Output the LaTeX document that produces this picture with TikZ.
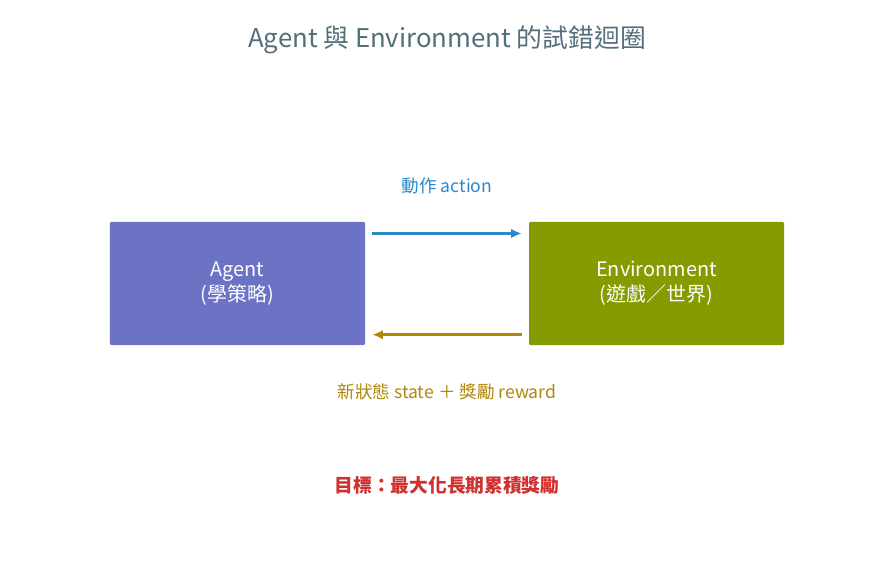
\documentclass[tikz,border=0pt]{standalone}
\usepackage{fontspec}
\setmainfont{Noto Sans CJK TC}
\usetikzlibrary{arrows.meta}
\definecolor{titlegray}{HTML}{546E7A}
\definecolor{agentblue}{HTML}{6C72C4}
\definecolor{envgreen}{HTML}{859B00}
\definecolor{actblue}{HTML}{2B88C9}
\definecolor{rewbrown}{HTML}{B0880A}
\definecolor{goalred}{HTML}{D0302F}
\tikzset{box/.style={draw=none,fill=#1,text=white,minimum width=7.65cm,minimum height=3.69cm,
    align=center,font=\fontsize{17}{21}\selectfont,rounded corners=1pt}}
\begin{document}
\begin{tikzpicture}[x=0.03cm,y=-0.03cm]
		\useasboundingbox[fill=white] (0,0) rectangle (894,564);
		% title
		\node[text=titlegray,font=\fontsize{22}{26}\selectfont] (title) at (447,40) {Agent 與 Environment 的試錯迴圈};
		% boxes
		\node[box=agentblue] (agent) at (237.5,283.5) {Agent\\(學策略)};
		\node[box=envgreen] (env) at (656.5,283.5) {Environment\\(遊戲／世界)};
		% action
		\draw[line width=2.2pt,color=actblue,-{Latex[length=9pt,width=8pt]}] ([xshift=6pt,yshift=-10pt]agent.north east) -- ([xshift=-6pt,yshift=-10pt]env.north west);
		\node[text=actblue,font=\fontsize{15}{18}\selectfont] (act) at (447,186) {動作 action};
		% state + reward
		\draw[line width=2.2pt,color=rewbrown,-{Latex[length=9pt,width=8pt]}] ([xshift=-6pt,yshift=9pt]env.south west) -- ([xshift=6pt,yshift=9pt]agent.south east);
		\node[text=rewbrown,font=\fontsize{15}{18}\selectfont] (rew) at (447,392) {新狀態 state ＋ 獎勵 reward};
		% goal
		\node[text=goalred,font=\bfseries\fontsize{16}{20}\selectfont] (goal) at (447,485) {目標：最大化長期累積獎勵};
\end{tikzpicture}
\end{document}
